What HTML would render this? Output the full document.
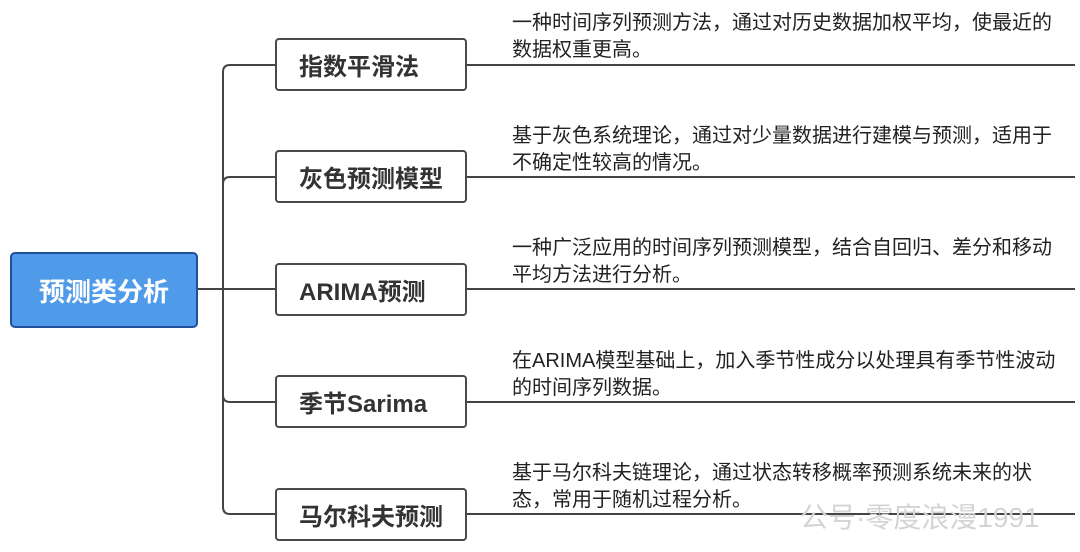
<!DOCTYPE html>
<html><head><meta charset="utf-8"><style>
body{margin:0;width:1080px;height:552px;background:#fff;position:relative;overflow:hidden;font-family:"Liberation Sans","Noto Sans CJK SC",sans-serif;}
.b{position:absolute;left:275px;border:2px solid #4a4a4a;border-radius:4px;background:#fff;display:flex;align-items:center;padding-left:22px;box-sizing:border-box;width:192px;height:53px;font-size:24px;font-weight:bold;color:#333;}
.t{position:absolute;left:512px;font-size:20px;line-height:27px;color:#222;white-space:nowrap;}
.root{position:absolute;left:10px;top:252px;width:188px;height:76px;box-sizing:border-box;background:#4f9be9;border:2px solid #1f4f9a;border-radius:5px;color:#fff;font-size:26px;font-weight:bold;display:flex;align-items:center;justify-content:center;}
</style></head><body>
<svg width="1080" height="552" style="position:absolute;left:0;top:0">
<g stroke="#444" stroke-width="2" fill="none">
<path d="M275 65 H230 Q223 65 223 72 V507 Q223 514 230 514 H275"/>
<path d="M275 177 H230 Q223 177 223 184"/>
<path d="M275 402 H230 Q223 402 223 395"/>
<path d="M197 289 H275"/>
<path d="M466 65 H1075 M466 177 H1075 M466 289 H1075 M466 402 H1075 M466 514 H1075"/>
</g></svg>
<div class="root">预测类分析</div>
<div class="b" style="top:38px">指数平滑法</div>
<div class="b" style="top:150px">灰色预测模型</div>
<div class="b" style="top:263px">ARIMA预测</div>
<div class="b" style="top:375px">季节Sarima</div>
<div class="b" style="top:488px">马尔科夫预测</div>
<div class="t" style="top:10px">一种时间序列预测方法，通过对历史数据加权平均，使最近的<br>数据权重更高。</div>
<div class="t" style="top:123px">基于灰色系统理论，通过对少量数据进行建模与预测，适用于<br>不确定性较高的情况。</div>
<div class="t" style="top:235px">一种广泛应用的时间序列预测模型，结合自回归、差分和移动<br>平均方法进行分析。</div>
<div class="t" style="top:348px">在ARIMA模型基础上，加入季节性成分以处理具有季节性波动<br>的时间序列数据。</div>
<div class="t" style="top:460px">基于马尔科夫链理论，通过状态转移概率预测系统未来的状<br>态，常用于随机过程分析。</div>
<div style="position:absolute;left:800px;top:496px;font-size:28px;color:#d4d4d4;white-space:nowrap;">公号·零度浪漫1991</div>
</body></html>
